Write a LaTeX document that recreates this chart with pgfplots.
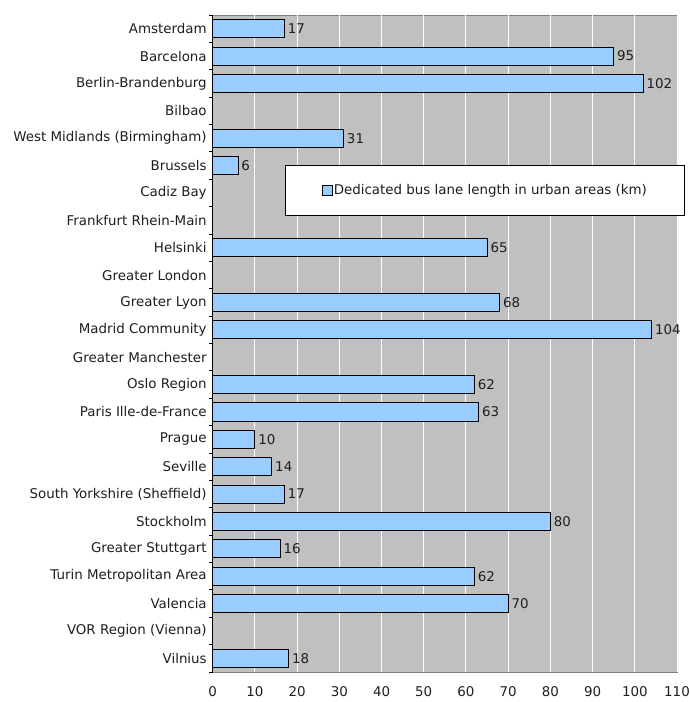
\documentclass[border=0pt]{standalone}
\usepackage{pgfplots}
\pgfplotsset{compat=1.18}
\usepackage{fontspec}
\setmainfont{DejaVu Sans}
\definecolor{plotbg}{RGB}{192,192,192}
\definecolor{plotedge}{RGB}{128,128,128}
\definecolor{barblue}{RGB}{153,204,255}
\definecolor{labelc}{RGB}{30,30,30}
\begin{document}
\begin{tikzpicture}[font=\fontsize{13.4bp}{15bp}\selectfont]
\begin{axis}[
    xbar,
    bar width=0.66,
    width=464.3bp, height=657bp,
    scale only axis,
    xmin=0, xmax=110,
    ymin=-0.5, ymax=23.5,
    y dir=reverse,
    xtick={0,10,...,110},
    ytick={0,...,23},
    yticklabels={Amsterdam, Barcelona, Berlin-Brandenburg, Bilbao,
        West Midlands (Birmingham), Brussels, Cadiz Bay, Frankfurt Rhein-Main,
        Helsinki, Greater London, Greater Lyon, Madrid Community,
        Greater Manchester, Oslo Region, Paris Ille-de-France, Prague, Seville,
        South Yorkshire (Sheffield), Stockholm, Greater Stuttgart,
        Turin Metropolitan Area, Valencia, VOR Region (Vienna), Vilnius},
    minor ytick={-0.5,0.5,...,23.5},
    ytick pos=left,
    tick align=outside,
    major tick length=0pt,
    minor tick length=3.5bp,
    minor y tick style={black, line width=0.8bp},
    xtick style={draw=none},
    xmajorgrids,
    major x grid style={white, line width=1bp},
    axis line style={draw=none},
    axis background/.style={fill=plotbg, draw=plotedge, line width=1bp},
    /pgf/number format/assume math mode=true,
    tick label style={text=labelc},
    yticklabel style={xshift=-2.5bp},
    xticklabel style={yshift=-11bp},
    nodes near coords,
    nodes near coords style={text=labelc, inner sep=3bp},
    legend style={at={(0.156,0.772)}, anchor=north west,
        draw=black, fill=white, line width=0.8bp,
        inner xsep=36bp, inner ysep=18bp,
        nodes={text=labelc, inner sep=1.5bp}},
    legend image code/.code={\draw[#1, draw=black, line width=0.8bp] (0bp,-5bp) rectangle (10bp,5bp);},
    after end axis/.code={\draw[black, line width=1bp] (rel axis cs:0,0) -- (rel axis cs:0,1);},
]
\addplot[fill=barblue, draw=black, line width=0.9bp] coordinates {
    (17,0) (95,1) (102,2) (31,4) (6,5) (65,8) (68,10) (104,11)
    (62,13) (63,14) (10,15) (14,16) (17,17) (80,18) (16,19)
    (62,20) (70,21) (18,23)
};
\legend{Dedicated bus lane length in urban areas (km)}
\end{axis}
\pgfresetboundingbox
\path ([xshift=-212.7bp,yshift=-30bp]current axis.south west) rectangle ([xshift=13bp,yshift=15bp]current axis.north east);
\end{tikzpicture}
\end{document}
